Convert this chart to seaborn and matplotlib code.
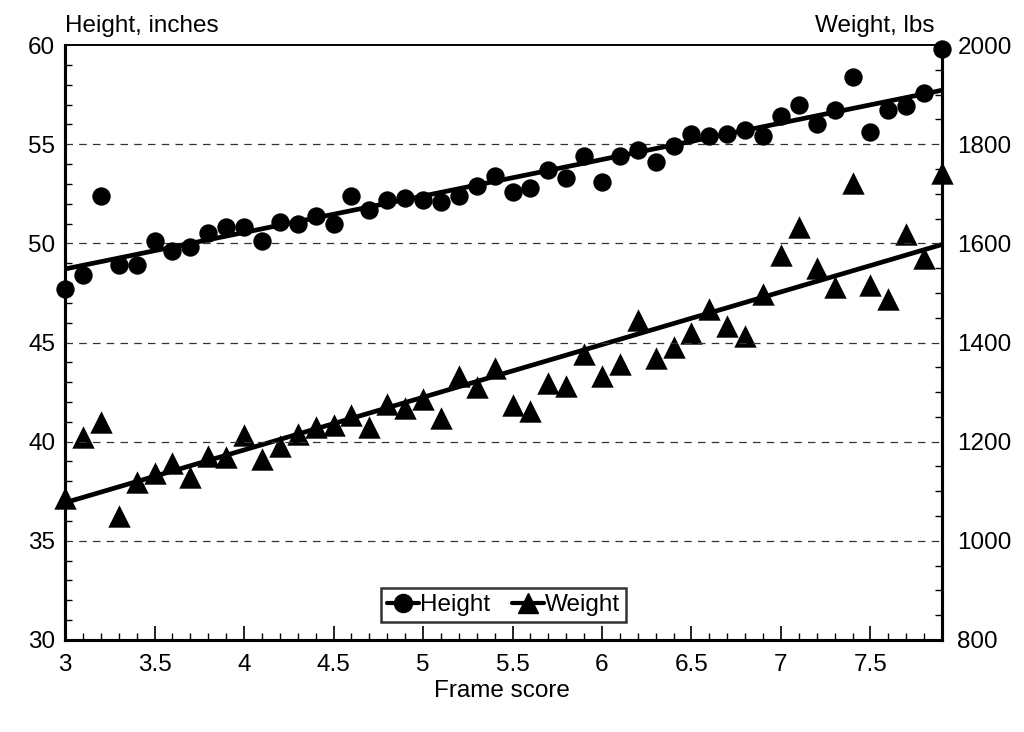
import numpy as np
import pandas as pd
import matplotlib
matplotlib.use("Agg")
import matplotlib.pyplot as plt
from matplotlib.lines import Line2D
from matplotlib.ticker import MultipleLocator
import seaborn as sns

frame_score = [3.0, 3.1, 3.2, 3.3, 3.4, 3.5, 3.6, 3.7, 3.8, 3.9,
               4.0, 4.1, 4.2, 4.3, 4.4, 4.5, 4.6, 4.7, 4.8, 4.9,
               5.0, 5.1, 5.2, 5.3, 5.4, 5.5, 5.6, 5.7, 5.8, 5.9,
               6.0, 6.1, 6.2, 6.3, 6.4, 6.5, 6.6, 6.7, 6.8, 6.9,
               7.0, 7.1, 7.2, 7.3, 7.4, 7.5, 7.6, 7.7, 7.8, 7.9]
height_in = [47.7, 48.4, 52.4, 48.9, 48.9, 50.1, 49.6, 49.8, 50.5, 50.8,
             50.8, 50.1, 51.1, 51.0, 51.4, 51.0, 52.4, 51.7, 52.2, 52.3,
             52.2, 52.1, 52.4, 52.9, 53.4, 52.6, 52.8, 53.7, 53.3, 54.4,
             53.1, 54.4, 54.7, 54.1, 54.9, 55.5, 55.4, 55.5, 55.7, 55.4,
             56.4, 57.0, 56.0, 56.7, 58.4, 55.6, 56.7, 56.9, 57.6, 59.8]
weight_lbs = [1087, 1209, 1240, 1051, 1119, 1137, 1156, 1128, 1171, 1170,
              1214, 1166, 1191, 1216, 1230, 1234, 1254, 1230, 1276, 1268,
              1286, 1247, 1333, 1311, 1349, 1273, 1261, 1318, 1313, 1376,
              1333, 1356, 1446, 1369, 1390, 1420, 1467, 1434, 1414, 1497,
              1577, 1633, 1551, 1512, 1721, 1516, 1488, 1618, 1570, 1741]

left_ticks = [30, 35, 40, 45, 50, 55, 60]
right_ticks = [800, 1000, 1200, 1400, 1600, 1800, 2000]
x_ticks = [3, 3.5, 4, 4.5, 5, 5.5, 6, 6.5, 7, 7.5]
x_tick_labels = ["3", "3.5", "4", "4.5", "5", "5.5", "6", "6.5", "7", "7.5"]

df = pd.DataFrame({"frame": frame_score, "height": height_in, "weight": weight_lbs})

sns.set_style("white")
plt.rcParams["font.family"] = ["Liberation Sans", "DejaVu Sans"]
plt.rcParams["text.color"] = "black"
plt.rcParams["xtick.color"] = "black"
plt.rcParams["ytick.color"] = "black"
plt.rcParams["axes.labelcolor"] = "black"

FS = 17.5

fig = plt.figure(figsize=(10.24, 7.32), dpi=100)
ax = fig.add_axes([0.0635, 0.1257, 0.8565, 0.8128])
ax2 = ax.twinx()

# Height (left axis)
sns.scatterplot(data=df, x="frame", y="height", ax=ax, marker="o", s=175,
                color="black", edgecolor="black", linewidth=0, zorder=3,
                legend=False, clip_on=False)
sns.regplot(data=df, x="frame", y="height", ax=ax, scatter=False, ci=None,
            truncate=True, color="black", line_kws={"linewidth": 3.4, "zorder": 2})

# Weight (right axis)
sns.scatterplot(data=df, x="frame", y="weight", ax=ax2, marker="^", s=260,
                color="black", edgecolor="black", linewidth=0, zorder=3,
                legend=False, clip_on=False)
sns.regplot(data=df, x="frame", y="weight", ax=ax2, scatter=False, ci=None,
            truncate=True, color="black", line_kws={"linewidth": 3.4, "zorder": 2})

ax.set_xlim(3, 7.9)
ax.set_ylim(30, 60)
ax2.set_ylim(800, 2000)

ax.set_xticks(x_ticks)
ax.set_xticklabels(x_tick_labels)
ax.xaxis.set_minor_locator(MultipleLocator(0.1))
ax.set_yticks(left_ticks)
ax.yaxis.set_minor_locator(MultipleLocator(1))
ax2.set_yticks(right_ticks)
ax2.yaxis.set_minor_locator(MultipleLocator(50))

for a in (ax, ax2):
    a.set_xlabel("")
    a.set_ylabel("")

ax.set_zorder(ax2.get_zorder() + 1)
ax.patch.set_visible(False)

ax.grid(False)
ax2.grid(False)
for yv in left_ticks[1:-1]:
    ax.axhline(yv, color="#333333", linestyle=(0, (6, 5)), linewidth=0.9, zorder=0)

ax.tick_params(axis="x", which="major", direction="in", length=10, width=1.2,
               labelsize=FS, pad=10, colors="black", bottom=True)
ax.tick_params(axis="x", which="minor", direction="in", length=5, width=1, bottom=True)
ax.tick_params(axis="y", which="major", direction="in", length=0, labelsize=FS, pad=7, left=True)
ax.tick_params(axis="y", which="minor", direction="in", length=5, width=1, left=True)
ax2.tick_params(axis="y", which="major", direction="in", length=0, labelsize=FS, pad=11, right=True)
ax2.tick_params(axis="y", which="minor", direction="in", length=5, width=1, right=True)

for a in (ax, ax2):
    for side in ("left", "bottom", "right"):
        a.spines[side].set_color("black")
        a.spines[side].set_linewidth(2.2)
    a.spines["top"].set_color("black")
    a.spines["top"].set_linewidth(1.2)

fig.text(0.0635, 0.950, "Height, inches", fontsize=FS, ha="left", va="bottom")
fig.text(0.913, 0.950, "Weight, lbs", fontsize=FS, ha="right", va="bottom")
fig.text(0.49, 0.041, "Frame score", fontsize=FS, ha="center", va="bottom")

handles = [
    Line2D([0], [0], color="black", linewidth=3, marker="o", markersize=13),
    Line2D([0], [0], color="black", linewidth=3, marker="^", markersize=15),
]
leg = ax2.legend(handles, ["Height", "Weight"], loc="lower center",
                 bbox_to_anchor=(0.5, 0.03), ncol=2, fontsize=FS, frameon=True,
                 fancybox=False, edgecolor="black", handlelength=1.3,
                 handletextpad=0.05, columnspacing=0.9, borderpad=0.25,
                 borderaxespad=0)
leg.get_frame().set_linewidth(1.8)
leg.set_zorder(10)

fig.savefig("out.png", dpi=100)
